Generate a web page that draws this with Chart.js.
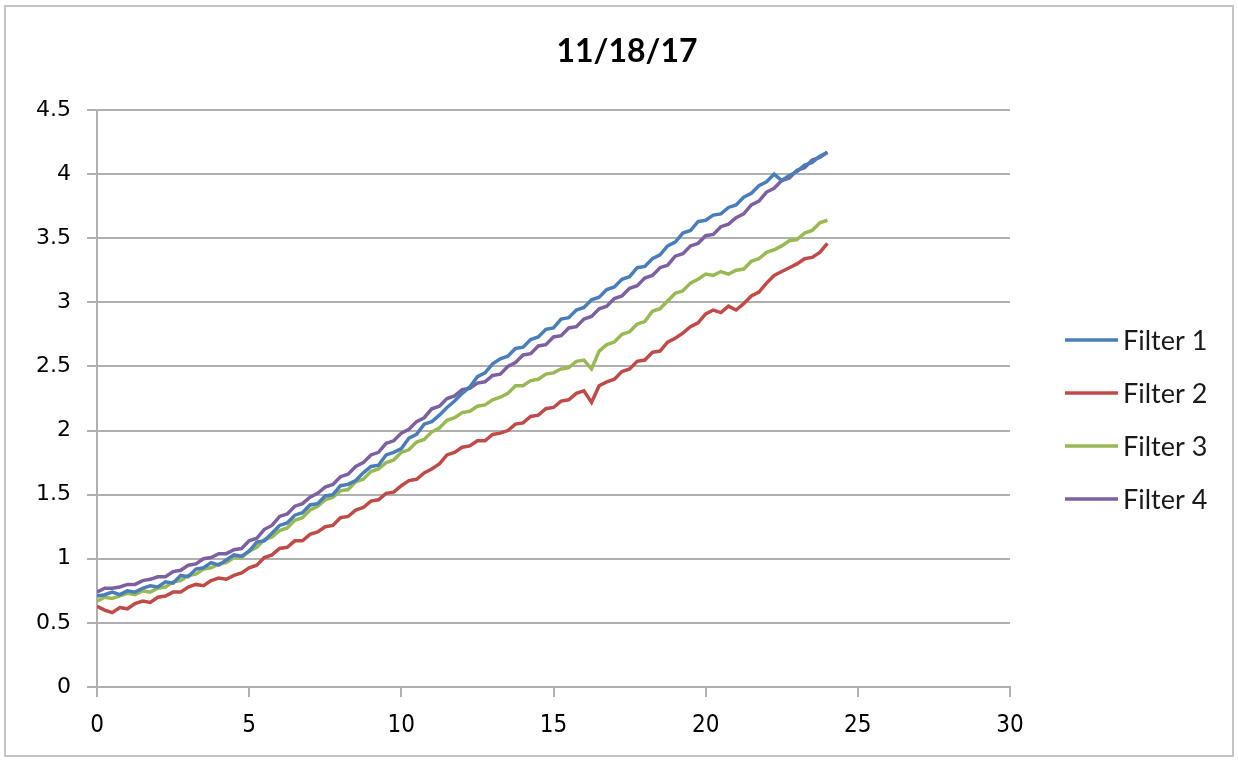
<!DOCTYPE html>
<html>
<head>
<meta charset="utf-8">
<title>11/18/17</title>
<script src="https://cdn.jsdelivr.net/npm/chart.js@4.4.1/dist/chart.umd.min.js"></script>
<style>
  body { margin: 0; background: #fff; }
</style>
</head>
<body>
<canvas id="chart" width="1238" height="762"></canvas>
<script>
// elapsed time, every 15 min
const hours = [
  0, 0.25, 0.5, 0.75, 1, 1.25, 1.5, 1.75, 2,
  2.25, 2.5, 2.75, 3, 3.25, 3.5,
  3.75, 4, 4.25, 4.5, 4.75,
  5, 5.25, 5.5, 5.75, 6,
  6.25, 6.5, 6.75, 7, 7.25,
  7.5, 7.75, 8, 8.25, 8.5,
  8.75, 9, 9.25, 9.5, 9.75, 10,
  10.25, 10.5, 10.75, 11,
  11.25, 11.5, 11.75, 12, 12.25, 12.5, 12.75, 13, 13.25,
  13.5, 13.75, 14, 14.25, 14.5, 14.75, 15, 15.25, 15.5, 15.75,
  16, 16.25, 16.5, 16.75, 17, 17.25, 17.5, 17.75, 18, 18.25,
  18.5, 18.75, 19, 19.25, 19.5, 19.75,
  20, 20.25, 20.5, 20.75, 21,
  21.25, 21.5, 21.75, 22, 22.25,
  22.5, 22.75, 23, 23.25, 23.5, 23.75, 24
];

const filter1 = [
  0.71, 0.72, 0.74, 0.72, 0.75, 0.74, 0.77, 0.79, 0.78,
  0.82, 0.81, 0.87, 0.86, 0.92, 0.93,
  0.97, 0.95, 0.99, 1.03, 1.02,
  1.06, 1.13, 1.14, 1.20, 1.26,
  1.28, 1.34, 1.36, 1.42, 1.43,
  1.49, 1.50, 1.57, 1.58, 1.61,
  1.67, 1.72, 1.73, 1.81, 1.83, 1.86,
  1.94, 1.97, 2.05, 2.07,
  2.12, 2.18, 2.23, 2.29, 2.34, 2.42, 2.45, 2.52, 2.56,
  2.58, 2.64, 2.65, 2.71, 2.73, 2.79, 2.80, 2.87, 2.88, 2.94,
  2.96, 3.02, 3.04, 3.10, 3.12, 3.18, 3.20, 3.27, 3.28, 3.34,
  3.37, 3.44, 3.47, 3.54, 3.56, 3.63,
  3.64, 3.68, 3.69, 3.74, 3.76,
  3.82, 3.85, 3.91, 3.94, 4.00,
  3.95, 3.99, 4.02, 4.07, 4.09, 4.14, 4.17
];

const filter2 = [
  0.63, 0.60, 0.58, 0.62, 0.61, 0.65, 0.67, 0.66, 0.70,
  0.71, 0.74, 0.74, 0.78, 0.80, 0.79,
  0.83, 0.85, 0.84, 0.87, 0.89,
  0.93, 0.95, 1.01, 1.03, 1.08,
  1.09, 1.14, 1.14, 1.19, 1.21,
  1.25, 1.26, 1.32, 1.33, 1.38,
  1.40, 1.45, 1.46, 1.51, 1.52, 1.57,
  1.61, 1.62, 1.67, 1.70,
  1.74, 1.81, 1.83, 1.87, 1.88, 1.92, 1.92, 1.97, 1.98,
  2.00, 2.05, 2.06, 2.11, 2.12, 2.17, 2.18, 2.23, 2.24, 2.29,
  2.31, 2.22, 2.35, 2.38, 2.40, 2.46, 2.48, 2.54, 2.55, 2.61,
  2.62, 2.69, 2.72, 2.76, 2.81, 2.84,
  2.91, 2.94, 2.92, 2.97, 2.94,
  2.99, 3.05, 3.08, 3.15, 3.21,
  3.24, 3.27, 3.30, 3.34, 3.35, 3.39, 3.46
];

const filter3 = [
  0.67, 0.70, 0.69, 0.71, 0.73, 0.72, 0.75, 0.74, 0.77,
  0.78, 0.82, 0.83, 0.87, 0.88, 0.92,
  0.93, 0.96, 0.97, 1.01, 1.01,
  1.06, 1.09, 1.15, 1.17, 1.22,
  1.24, 1.30, 1.32, 1.38, 1.41,
  1.46, 1.48, 1.53, 1.54, 1.60,
  1.62, 1.68, 1.70, 1.75, 1.77, 1.83,
  1.85, 1.91, 1.93, 1.99,
  2.02, 2.08, 2.10, 2.14, 2.15, 2.19, 2.20, 2.24, 2.26,
  2.29, 2.35, 2.35, 2.39, 2.40, 2.44, 2.45, 2.48, 2.49, 2.54,
  2.55, 2.48, 2.62, 2.67, 2.69, 2.75, 2.77, 2.83, 2.85, 2.93,
  2.95, 3.01, 3.07, 3.09, 3.15, 3.18,
  3.22, 3.21, 3.24, 3.22, 3.25,
  3.26, 3.32, 3.34, 3.39, 3.41,
  3.44, 3.48, 3.49, 3.54, 3.56, 3.62, 3.64
];

const filter4 = [
  0.74, 0.77, 0.77, 0.78, 0.80, 0.80, 0.83, 0.84, 0.86,
  0.86, 0.90, 0.91, 0.95, 0.96, 1.00,
  1.01, 1.04, 1.04, 1.07, 1.08,
  1.14, 1.16, 1.23, 1.26, 1.33,
  1.35, 1.41, 1.43, 1.48, 1.51,
  1.56, 1.58, 1.64, 1.66, 1.72,
  1.75, 1.81, 1.83, 1.90, 1.92, 1.98,
  2.01, 2.07, 2.10, 2.17,
  2.19, 2.25, 2.27, 2.32, 2.33, 2.37, 2.38, 2.43, 2.44,
  2.50, 2.53, 2.59, 2.60, 2.66, 2.67, 2.73, 2.74, 2.80, 2.81,
  2.87, 2.89, 2.95, 2.97, 3.03, 3.05, 3.11, 3.13, 3.19, 3.21,
  3.27, 3.29, 3.36, 3.38, 3.44, 3.46,
  3.52, 3.53, 3.59, 3.61, 3.66,
  3.69, 3.76, 3.79, 3.86, 3.89,
  3.95, 3.97, 4.03, 4.05, 4.11, 4.13, 4.17
];

const seriesNames = ['Filter 1', 'Filter 2', 'Filter 3', 'Filter 4'];
const seriesColors = ['#4a7ebb', '#be4b48', '#98b954', '#7d60a0'];
const seriesData = [filter1, filter2, filter3, filter4];
const chartTitle = '11/18/17';

const gridColor = '#b0b0b0';

function points(vals) {
  return vals.map((v, i) => ({ x: hours[i], y: v }));
}

// outer frame, centred title and the legend on the right
const framePlugin = {
  id: 'frame',
  afterDraw(chart) {
    const c = chart.ctx;
    const area = chart.chartArea;
    c.save();
    c.strokeStyle = '#c4c4c4';
    c.lineWidth = 2;
    c.strokeRect(5, 6, chart.width - 10, chart.height - 12);

    c.fillStyle = '#000';
    c.font = 'bold 32px Lato';
    c.textAlign = 'center';
    c.textBaseline = 'middle';
    c.fillText(chartTitle, chart.width / 2 + 8, 52);

    c.font = '27px Lato';
    c.textAlign = 'left';
    c.fillStyle = '#1a1a1a';
    chart.data.datasets.forEach((ds, i) => {
      const y = 340 + i * 53;
      const x0 = area.right + 55;
      c.strokeStyle = ds.borderColor;
      c.lineWidth = 3.5;
      c.beginPath();
      c.moveTo(x0, y);
      c.lineTo(x0 + 53, y);
      c.stroke();
      c.fillText(ds.label, x0 + 58, y + 1);
    });
    c.restore();
  }
};

new Chart(document.getElementById('chart'), {
  type: 'line',
  data: {
    datasets: seriesNames.map((name, i) => ({
      label: name,
      data: points(seriesData[i]),
      borderColor: seriesColors[i],
      backgroundColor: seriesColors[i],
      borderWidth: 3.5,
      pointRadius: 0,
      tension: 0
    }))
  },
  options: {
    responsive: false,
    animation: false,
    layout: { padding: { left: 0, right: 228, top: 110, bottom: 0 } },
    plugins: {
      legend: { display: false },
      tooltip: { enabled: false },
      title: { display: false }
    },
    scales: {
      x: {
        type: 'linear',
        min: 0,
        max: 30,
        ticks: {
          stepSize: 5,
          color: '#000',
          padding: 14,
          font: { family: 'Liberation Sans Narrow, DejaVu Sans Condensed, sans-serif', size: 24 }
        },
        grid: { drawOnChartArea: false, color: gridColor, lineWidth: 2, tickLength: 10 },
        border: { color: gridColor, width: 2 },
        afterFit(scale) { scale.height = 75; }
      },
      y: {
        min: 0,
        max: 4.5,
        ticks: {
          stepSize: 0.5,
          color: '#000',
          padding: 16,
          font: { family: 'DejaVu Sans', size: 22 },
          callback: (v) => String(v)
        },
        grid: { color: gridColor, lineWidth: 2, tickLength: 10 },
        border: { color: gridColor, width: 2 },
        afterFit(scale) { scale.width = 97; }
      }
    }
  },
  plugins: [framePlugin]
});
</script>
</body>
</html>
